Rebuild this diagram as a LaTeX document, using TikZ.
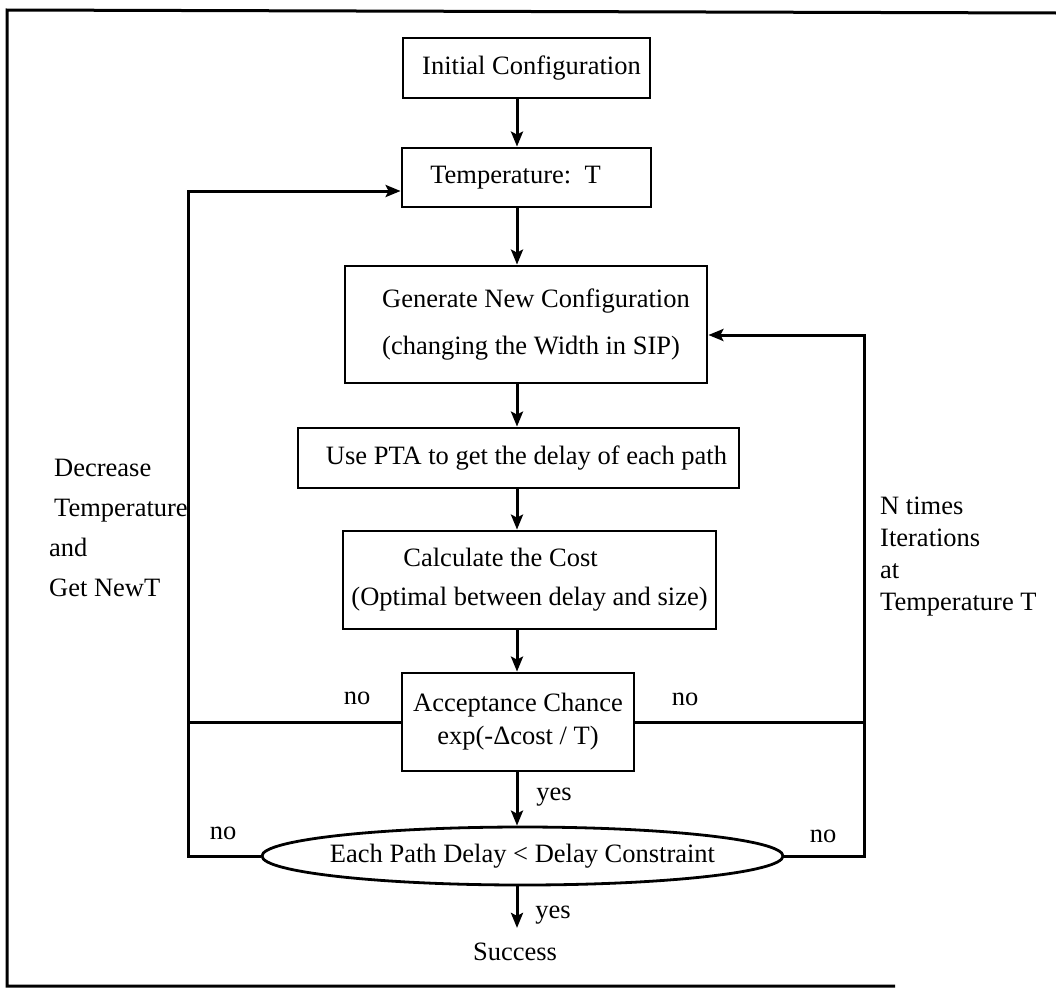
\documentclass[tikz,border=0pt]{standalone}
\usepackage{fontspec}
\setmainfont{Liberation Serif}
\usetikzlibrary{arrows.meta,shapes.geometric}
\begin{document}
\begin{tikzpicture}[x=1pt,y=-1pt,
  every node/.style={font=\fontsize{26.5pt}{32pt}\selectfont},
  stepbox/.style={draw,line width=2.8pt,inner sep=0pt},
  decision/.style={draw,ellipse,line width=2.8pt,inner sep=0pt},
  flow/.style={line width=3pt,-{Stealth[length=15pt,width=12pt,inset=3pt]}},
  wire/.style={line width=3pt},
  tag/.style={inner sep=0pt},
  note/.style={inner sep=0pt,anchor=west,align=left}]
\useasboundingbox (0,0) rectangle (1056,988);

% page frame
\draw[line width=3pt] (1056,13) -- (7,10) -- (7,986) -- (895,986);

% process steps
\node[stepbox,minimum width=247pt,minimum height=60pt] (init) at (526.5,68)
  {\hspace*{10pt}Initial Configuration};
\node[stepbox,minimum width=249pt,minimum height=59pt] (temp) at (526.5,177.5)
  {Temperature:\ \ T\hspace*{22pt}};
\node[stepbox,minimum width=362pt,minimum height=117pt,align=left,
      font=\fontsize{26.5pt}{47pt}\selectfont] (gen) at (526,324.5)
  {\hspace*{20pt}Generate New Configuration\\\hspace*{20pt}(changing the Width in SIP)};
\node[stepbox,minimum width=441pt,minimum height=60pt] (pta) at (518.5,458)
  {\hspace*{16pt}Use PTA to get the delay of each path};
\node[stepbox,minimum width=373pt,minimum height=98pt,align=left,
      font=\fontsize{26.5pt}{39pt}\selectfont] (calc) at (529.5,580)
  {\hspace*{52pt}Calculate the Cost\\(Optimal between delay and size)};
\node[stepbox,minimum width=232pt,minimum height=98pt,align=center,
      font=\fontsize{26.5pt}{33pt}\selectfont] (acc) at (518,722)
  {Acceptance Chance\\exp(-Δcost / T)};
\node[decision,minimum width=521pt,minimum height=58pt] (ell) at (522.5,856)
  {\makebox[0pt]{Each Path Delay < Delay Constraint}};
\node[inner xsep=0pt,inner ysep=15pt] (succ) at (515,952) {Success};

% side notes
\node[note,font=\fontsize{26.5pt}{40pt}\selectfont] (decnote) at (49,528)
  {\hspace*{5pt}Decrease\\\hspace*{5pt}Temperature\\and\\Get NewT};
\node[note,font=\fontsize{26.5pt}{32.3pt}\selectfont] (iternote) at (880,556.5)
  {N times\\Iterations\\at\\Temperature T};

% branch labels
\node[tag] (noA) at (357,698) {no};
\node[tag] (noB) at (685,699) {no};
\node[tag] (noC) at (223,833) {no};
\node[tag] (noD) at (823,836) {no};
\node[tag] (yesA) at (554,797) {yes};
\node[tag] (yesB) at (553,915) {yes};

% routing guides
\coordinate (spine) at (517,0);
\coordinate (lx) at (188,0);
\coordinate (rx) at (864,0);
\coordinate (tin) at ([yshift=-13.5pt]temp.west);
\coordinate (gin) at ([yshift=-10.5pt]gen.east);

% main flow
\draw[flow] (init.south -| spine) -- (temp.north -| spine);
\draw[flow] (temp.south -| spine) -- (gen.north -| spine);
\draw[flow] (gen.south -| spine) -- (pta.north -| spine);
\draw[flow] (pta.south -| spine) -- (calc.north -| spine);
\draw[flow] (calc.south -| spine) -- (acc.north -| spine);
\draw[flow] (acc.south -| spine) -- (ell.north -| spine);
\draw[flow] (ell.south -| spine) -- (succ.north -| spine);

% outer loop: lower the temperature
\draw[flow] (ell.west) -- (ell.west -| lx) -- (lx |- tin) -- (tin);
\draw[wire] (acc.west) -- (acc.west -| lx);

% inner loop: next iteration at the same temperature
\draw[flow] (ell.east) -- (ell.east -| rx) -- (rx |- gin) -- (gin);
\draw[wire] (acc.east) -- (acc.east -| rx);
\end{tikzpicture}
\end{document}
